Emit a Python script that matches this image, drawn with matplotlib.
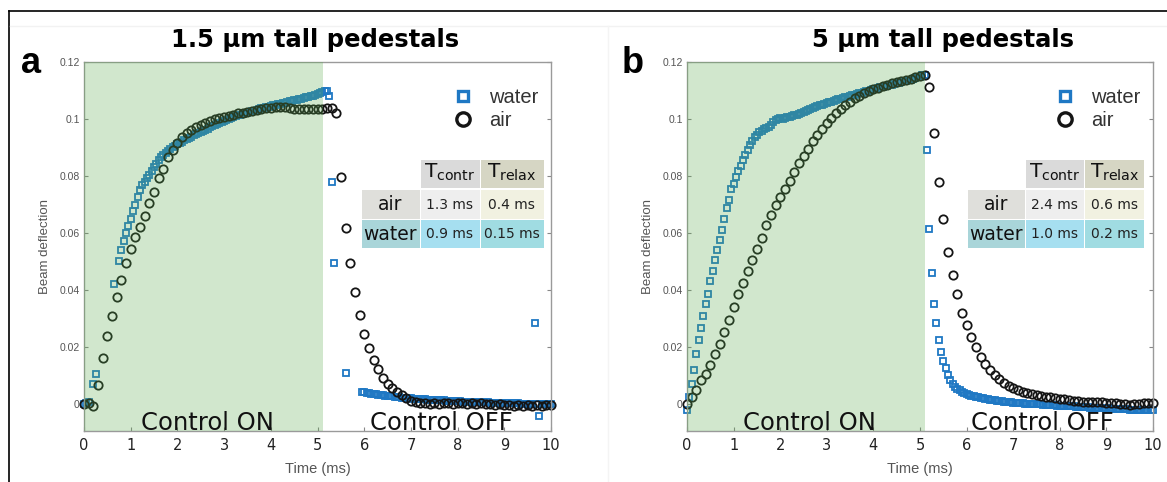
import numpy as np
import matplotlib
matplotlib.use("Agg")
import matplotlib.pyplot as plt
from matplotlib.patches import Rectangle
from matplotlib.lines import Line2D

# sample times (ms)
t_air = np.round(np.arange(0, 10.001, 0.1), 2)
t_water = np.round(np.arange(0, 10.001, 0.05), 2)
nan = np.nan

# panel a: 1.5 um pedestals
air_a = [0.0000, 0.0006, -0.0006, 0.0068, 0.0161, 0.0239, 0.0311, 0.0377, 0.0435, 0.0495,
         0.0545, 0.0585, 0.0621, 0.0661, 0.0705, 0.0744, 0.0792, 0.0826, 0.0866, 0.0892,
         0.0915, 0.0935, 0.0950, 0.0962, 0.0972, 0.0978, 0.0985, 0.0992, 0.0998, 0.1003,
         0.1007, 0.1011, 0.1015, 0.1020, 0.1022, 0.1025, 0.1028, 0.1031, 0.1034, 0.1037,
         0.1039, 0.1041, 0.1043, 0.1041, 0.1039, 0.1036, 0.1034, 0.1033, 0.1033, 0.1034,
         0.1034, 0.1036, 0.1038, 0.1038, 0.1019, 0.0797, 0.0619, 0.0496, 0.0393, 0.0314,
         0.0246, 0.0196, 0.0155, 0.0123, 0.0091, 0.0071, 0.0056, 0.0044, 0.0033, 0.0021,
         0.0013, 0.0008, 0.0004, 0.0006, 0.0003, 0.0005, 0.0002, 0.0006, 0.0004, 0.0001,
         0.0004, 0.0006, 0.0003, 0.0005, 0.0002, 0.0006, 0.0003, 0.0001, -0.0002, 0.0001,
         -0.0003, -0.0001, -0.0004, -0.0002, -0.0005, -0.0002, -0.0006, -0.0003, -0.0007, -0.0001,
         -0.0002]

water_a = [0.0000, 0.0004, 0.0008, nan, 0.0073, 0.0108, nan, nan, nan, nan,
           nan, nan, nan, 0.0423, nan, 0.0501, 0.0540, 0.0572, 0.0600, 0.0625,
           0.0650, 0.0676, 0.0700, 0.0726, 0.0750, 0.0768, 0.0780, 0.0792, 0.0805, 0.0818,
           0.0830, 0.0843, 0.0855, 0.0865, 0.0874, 0.0882, 0.0889, 0.0895, 0.0901, 0.0906,
           0.0911, 0.0916, 0.0920, 0.0925, 0.0929, 0.0934, 0.0938, 0.0942, 0.0946, 0.0950,
           0.0954, 0.0958, 0.0962, 0.0966, 0.0970, 0.0974, 0.0978, 0.0982, 0.0986, 0.0990,
           0.0994, 0.0997, 0.1000, 0.1003, 0.1006, 0.1009, 0.1012, 0.1014, 0.1017, 0.1019,
           0.1022, 0.1024, 0.1027, 0.1029, 0.1032, 0.1034, 0.1037, 0.1039, 0.1041, 0.1043,
           0.1045, 0.1047, 0.1049, 0.1051, 0.1053, 0.1055, 0.1057, 0.1059, 0.1061, 0.1063,
           0.1065, 0.1067, 0.1069, 0.1071, 0.1073, 0.1075, 0.1077, 0.1079, 0.1081, 0.1083,
           0.1086, 0.1089, 0.1093, 0.1097, 0.1096, 0.1080, 0.0778, 0.0496, nan, nan,
           nan, nan, 0.0111, nan, nan, nan, nan, nan, nan, 0.0044,
           0.0042, 0.0041, 0.0039, 0.0038, 0.0037, 0.0035, 0.0034, 0.0033, 0.0032, 0.0031,
           0.0030, 0.0029, 0.0028, 0.0027, 0.0026, 0.0025, 0.0024, 0.0023, 0.0022, 0.0022,
           0.0021, 0.0020, 0.0020, 0.0019, 0.0019, 0.0018, 0.0018, 0.0017, 0.0017, 0.0016,
           0.0016, 0.0015, 0.0015, 0.0014, 0.0014, 0.0013, 0.0013, 0.0012, 0.0012, 0.0012,
           0.0011, 0.0011, 0.0010, 0.0010, 0.0010, 0.0009, 0.0009, 0.0009, 0.0008, 0.0008,
           0.0008, 0.0007, 0.0007, 0.0007, 0.0006, 0.0006, 0.0006, 0.0006, 0.0005, 0.0005,
           0.0005, 0.0005, 0.0004, 0.0004, 0.0004, 0.0004, 0.0004, 0.0003, 0.0003, 0.0003,
           0.0003, 0.0003, 0.0003, 0.0285, 0.0003, -0.0040, 0.0003, 0.0003, 0.0003, 0.0003,
           0.0003]

# panel b: 5 um pedestals
air_b = [0.0000, 0.0027, 0.0052, 0.0085, 0.0106, 0.0137, 0.0176, 0.0211, 0.0253, 0.0297,
         0.0341, 0.0386, 0.0426, 0.0467, 0.0504, 0.0545, 0.0584, 0.0628, 0.0662, 0.0697,
         0.0726, 0.0756, 0.0784, 0.0814, 0.0845, 0.0871, 0.0895, 0.0922, 0.0944, 0.0965,
         0.0984, 0.1003, 0.1019, 0.1034, 0.1048, 0.1060, 0.1072, 0.1081, 0.1089, 0.1096,
         0.1103, 0.1109, 0.1115, 0.1120, 0.1125, 0.1129, 0.1133, 0.1137, 0.1141, 0.1145,
         0.1150, 0.1155, 0.1110, 0.0950, 0.0780, 0.0648, 0.0535, 0.0452, 0.0385, 0.0321,
         0.0278, 0.0235, 0.0200, 0.0167, 0.0140, 0.0120, 0.0103, 0.0088, 0.0076, 0.0064,
         0.0056, 0.0050, 0.0045, 0.0041, 0.0037, 0.0033, 0.0030, 0.0027, 0.0025, 0.0022,
         0.0020, 0.0018, 0.0015, 0.0013, 0.0011, 0.0010, 0.0009, 0.0008, 0.0007, 0.0007,
         0.0006, 0.0005, 0.0004, 0.0003, 0.0001, -0.0001, 0.0000, 0.0003, 0.0004, 0.0004,
         0.0004]

water_b = [-0.0020, 0.0027, 0.0073, 0.0122, 0.0178, 0.0227, 0.0269, 0.0309, 0.0351, 0.0386,
           0.0431, 0.0467, 0.0504, 0.0542, 0.0574, 0.0609, 0.0649, 0.0687, 0.0716, 0.0753,
           0.0772, 0.0796, 0.0817, 0.0834, 0.0856, 0.0874, 0.0892, 0.0910, 0.0924, 0.0935,
           0.0945, 0.0953, 0.0958, 0.0963, 0.0968, 0.0973, 0.0980, 0.0988, 0.0995, 0.1000,
           0.1003, 0.1001, 0.1004, 0.1007, 0.1005, 0.1009, 0.1012, 0.1015, 0.1018, 0.1022,
           0.1025, 0.1028, 0.1031, 0.1035, 0.1038, 0.1041, 0.1044, 0.1047, 0.1050, 0.1052,
           0.1055, 0.1058, 0.1060, 0.1063, 0.1065, 0.1068, 0.1070, 0.1072, 0.1075, 0.1078,
           0.1080, 0.1082, 0.1084, 0.1087, 0.1089, 0.1091, 0.1094, 0.1096, 0.1098, 0.1101,
           0.1103, 0.1105, 0.1107, 0.1110, 0.1112, 0.1114, 0.1116, 0.1118, 0.1120, 0.1122,
           0.1125, 0.1127, 0.1129, 0.1131, 0.1133, 0.1135, 0.1137, 0.1140, 0.1142, 0.1145,
           0.1148, 0.1152, 0.1155, 0.0891, 0.0615, 0.0459, 0.0351, 0.0285, 0.0224, 0.0184,
           0.0152, 0.0126, 0.0103, 0.0085, 0.0071, 0.0062, 0.0055, 0.0050, 0.0045, 0.0041,
           0.0037, 0.0034, 0.0031, 0.0029, 0.0027, 0.0025, 0.0023, 0.0021, 0.0019, 0.0018,
           0.0016, 0.0015, 0.0014, 0.0013, 0.0012, 0.0011, 0.0010, 0.0009, 0.0008, 0.0007,
           0.0006, 0.0006, 0.0005, 0.0004, 0.0004, 0.0003, 0.0003, 0.0002, 0.0002, 0.0001,
           0.0001, 0.0000, 0.0000, -0.0001, -0.0001, -0.0002, -0.0002, -0.0003, -0.0003, -0.0004,
           -0.0004, -0.0005, -0.0005, -0.0006, -0.0006, -0.0007, -0.0007, -0.0008, -0.0008, -0.0009,
           -0.0009, -0.0010, -0.0010, -0.0011, -0.0011, -0.0012, -0.0012, -0.0013, -0.0013, -0.0013,
           -0.0014, -0.0014, -0.0015, -0.0015, -0.0015, -0.0016, -0.0016, -0.0017, -0.0017, -0.0017,
           -0.0018, -0.0018, -0.0018, -0.0019, -0.0019, -0.0019, -0.0020, -0.0020, -0.0020, -0.0021,
           -0.0021]

titles = ["1.5 μm tall pedestals", "5 μm tall pedestals"]
letters = ["a", "b"]
control_end = [5.12, 5.10]
series_labels = ["water", "air"]
row_labels = ["air", "water"]
col_labels = [r"$\mathregular{T_{contr}}$", r"$\mathregular{T_{relax}}$"]
times_a = [["1.3 ms", "0.4 ms"], ["0.9 ms", "0.15 ms"]]
times_b = [["2.4 ms", "0.6 ms"], ["1.0 ms", "0.2 ms"]]
yticks = [0, 0.02, 0.04, 0.06, 0.08, 0.1, 0.12]
ytick_labels = ["0", "0.02", "0.04", "0.06", "0.08", "0.1", "0.12"]
xticks = list(range(0, 11))

WATER_C = "#1f78c4"
AIR_C = "#151515"
GRAY = "#555555"


def draw_table(ax, x0, widths, vals):
    # header row then air / water rows, axes-fraction coords
    tops = [0.734, 0.652, 0.571]
    hts = [0.076, 0.078, 0.076]
    head_bg = ["#dadada", "#d6d6c4"]
    row_bg = [["#dfdfdb", "#eeeeee", "#f1f1e1"],
              ["#a9d5d9", "#a6dff0", "#a0dce2"]]
    xs = [x0, x0 + widths[0], x0 + widths[0] + widths[1]]
    g = 0.002
    for j in range(2):
        ax.add_patch(Rectangle((xs[j + 1] + g, tops[0] - hts[0]), widths[j + 1] - g, hts[0],
                               transform=ax.transAxes, color=head_bg[j], lw=0, zorder=5))
        ax.text(xs[j + 1] + widths[j + 1] / 2, tops[0] - hts[0] / 2 + 0.004, col_labels[j],
                transform=ax.transAxes, ha="center", va="center", fontsize=14.5,
                color="#111111", zorder=6)
    for i in range(2):
        top = tops[i + 1]
        h = hts[i + 1]
        for j in range(3):
            ax.add_patch(Rectangle((xs[j] + g, top - h), widths[j] - g, h,
                                   transform=ax.transAxes, color=row_bg[i][j], lw=0, zorder=5))
        ax.text(xs[0] + widths[0] / 2, top - h / 2, row_labels[i], transform=ax.transAxes,
                ha="center", va="center", fontsize=13.5, color="#111111", zorder=6)
        for j in range(2):
            ax.text(xs[j + 1] + widths[j + 1] / 2, top - h / 2, vals[i][j],
                    transform=ax.transAxes, ha="center", va="center", fontsize=10,
                    color="#222222", zorder=6)


fig = plt.figure(figsize=(11.67, 4.82), dpi=100)
panels = [
    dict(rect=[0.0720, 0.1064, 0.4002, 0.7656], air=air_a, water=water_a, vals=times_a,
         tab_x0=0.593, tab_w=[0.126, 0.128, 0.137], off_x=7.66, on_x=2.65, title_x=0.495),
    dict(rect=[0.5887, 0.1064, 0.3993, 0.7656], air=air_b, water=water_b, vals=times_b,
         tab_x0=0.601, tab_w=[0.124, 0.128, 0.128], off_x=7.62, on_x=2.62, title_x=0.55),
]

for k, p in enumerate(panels):
    ax = fig.add_axes(p["rect"])
    ax.plot(t_water, p["water"], ls="none", marker="s", ms=4.2, mfc="none", mec=WATER_C,
            mew=1.3, label=series_labels[0], clip_on=False, zorder=2)
    ax.plot(t_air, p["air"], ls="none", marker="o", ms=6.0, mfc="none", mec=AIR_C,
            mew=1.3, label=series_labels[1], clip_on=False, zorder=2)
    ax.axvspan(0, control_end[k], color="#5aab4e", alpha=0.28, lw=0, zorder=3)
    ax.set_xlim(0, 10)
    ax.set_ylim(-0.0092, 0.12)
    ax.set_xticks(xticks)
    ax.set_yticks(yticks)
    ax.set_yticklabels(ytick_labels, fontsize=7.5, color=GRAY, family="Liberation Sans")
    ax.set_xticklabels([str(v) for v in xticks], fontsize=10.5, color="#222222")
    ax.tick_params(axis="both", direction="in", length=3, color="#888888", right=True, width=0.8)
    ax.tick_params(axis="y", pad=3)
    ax.tick_params(axis="x", pad=5)
    for s in ax.spines.values():
        s.set_color("#9a9a9a")
        s.set_linewidth(1.0)
    ax.set_xlabel("Time (ms)", fontsize=10.5, color=GRAY, family="Liberation Sans", labelpad=7)
    ax.set_ylabel("Beam deflection", fontsize=9.5, color=GRAY, family="Liberation Sans", labelpad=6)
    ax.text(p["on_x"], -0.0088, "Control ON", ha="center", va="baseline", fontsize=17.5,
            color="#111111", zorder=6)
    ax.text(p["off_x"], -0.0088, "Control OFF", ha="center", va="baseline", fontsize=17.5,
            color="#111111", zorder=6)
    ax.text(p["title_x"], 1.04, titles[k], transform=ax.transAxes, ha="center",
            va="baseline", fontsize=17.5, fontweight="bold")
    ax.text(-0.135 if k == 0 else -0.14, 0.97, letters[k], transform=ax.transAxes, ha="left",
            va="baseline", fontsize=26, fontweight="bold", family="Liberation Sans")
    leg = ax.legend(loc="upper left", bbox_to_anchor=(0.768, 0.955), frameon=False,
                    handlelength=1.0, handletextpad=0.8, labelspacing=0.2,
                    borderpad=0, prop={"family": "Liberation Sans", "size": 14.5})
    for h in leg.legend_handles:
        h.set_markersize(h.get_markersize() * 1.6)
        h.set_markeredgewidth(2.4)
    for txt in leg.get_texts():
        txt.set_color("#333333")
    draw_table(ax, p["tab_x0"], p["tab_w"], p["vals"])

# outer frame of the figure panel
fig.add_artist(Line2D([9 / 1167, 1], [1 - 10.7 / 482] * 2, transform=fig.transFigure,
                      color="black", lw=1.2, zorder=-1))
fig.add_artist(Line2D([9.3 / 1167] * 2, [0, 1 - 10.7 / 482], transform=fig.transFigure,
                      color="black", lw=1.2, zorder=-1))
fig.add_artist(Line2D([10 / 1167, 1], [1 - 26 / 482] * 2, transform=fig.transFigure,
                      color="#f2f2f2", lw=1.0, zorder=-1))
fig.add_artist(Line2D([608 / 1167] * 2, [0, 1 - 26 / 482], transform=fig.transFigure,
                      color="#f4f4f4", lw=1.0, zorder=-1))

fig.savefig("out.png", dpi=100)
